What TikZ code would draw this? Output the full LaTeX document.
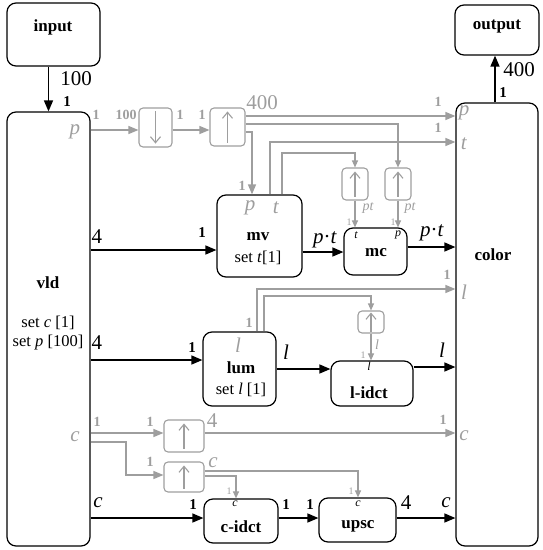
\documentclass[tikz,border=0pt]{standalone}
\usepackage{fontspec}
\setmainfont{Liberation Serif}
\usetikzlibrary{arrows.meta}
\definecolor{gc}{RGB}{158,158,158}
\begin{document}
\begin{tikzpicture}[x=1pt,y=-1pt,
 bx/.style={draw=black, line width=1.2pt, rounded corners=9pt, inner sep=0pt},
 gbx/.style={draw=gc, line width=1.1pt, rounded corners=4pt, inner sep=0pt},
 arr/.style={line width=1.4pt, -{Triangle[length=11pt,width=9pt]}},
 garr/.style={draw=gc, line width=1.3pt, -{Triangle[length=10pt,width=8pt]}},
 sgarr/.style={draw=gc, line width=1.1pt, -{Triangle[length=7pt,width=6pt]}},
 sym/.style={draw=gc, line width=1.1pt, -{Straight Barb[length=6pt,width=10pt]}},
 tt/.style={inner sep=0pt, font=\fontsize{17}{19}\selectfont\bfseries},
 ts/.style={inner sep=0pt, font=\fontsize{16.5}{19}\selectfont},
 lb/.style={inner sep=0pt, font=\fontsize{21}{23}\selectfont},
 b1/.style={inner sep=0pt, font=\fontsize{15}{17}\selectfont\bfseries},
 g1/.style={inner sep=0pt, text=gc, font=\fontsize{14}{16}\selectfont\bfseries},
 glb/.style={inner sep=0pt, text=gc, font=\fontsize{21}{23}\selectfont},
 sg/.style={inner sep=0pt, text=gc, font=\fontsize{10}{12}\selectfont},
 sgi/.style={inner sep=0pt, text=gc, font=\fontsize{14}{16}\selectfont\itshape},
 si/.style={inner sep=0pt, font=\fontsize{12}{14}\selectfont\itshape},
]
\useasboundingbox (0,0) rectangle (542,550);
% boxes
\node[bx, minimum width=93pt, minimum height=63pt] (input) at (53.5,34.5) {};
\node[bx, minimum width=83pt, minimum height=434pt] (vld) at (48.5,329) {};
\node[bx, minimum width=84pt, minimum height=50pt] (output) at (497,30) {};
\node[bx, minimum width=82pt, minimum height=443pt] (color) at (497,324.5) {};
\node[gbx, minimum width=33pt, minimum height=39pt] (down) at (155.5,127.5) {};
\node[gbx, minimum width=35pt, minimum height=38pt] (upa) at (227.5,127) {};
\node[bx, minimum width=85pt, minimum height=82pt] (mv) at (259.5,236) {};
\node[bx, minimum width=63pt, minimum height=47pt] (mc) at (375.5,251.5) {};
\node[gbx, minimum width=26pt, minimum height=32pt] (upt) at (355,184) {};
\node[gbx, minimum width=26pt, minimum height=32pt] (upp) at (398,184) {};
\node[bx, minimum width=73pt, minimum height=74pt] (lum) at (239.5,369) {};
\node[bx, minimum width=82pt, minimum height=45pt] (lidct) at (372,383.5) {};
\node[gbx, minimum width=26pt, minimum height=22pt] (upl) at (371,322) {};
\node[gbx, minimum width=40pt, minimum height=32pt] (upca) at (184,436) {};
\node[gbx, minimum width=40pt, minimum height=30pt] (upcb) at (184,477) {};
\node[bx, minimum width=74pt, minimum height=44pt] (cidct) at (241,521) {};
\node[bx, minimum width=77pt, minimum height=44pt] (upsc) at (357.5,520) {};
% symbols
\draw[sym] ([yshift=-4pt]down.north) -- ([yshift=4pt]down.south);
\foreach \b in {upa,upt,upp,upca,upcb}{\draw[sym] ([yshift=4pt]\b.south) -- ([yshift=-4pt]\b.north);}
\draw[sym] ([yshift=2pt]upl.south) -- ([yshift=-2pt]upl.north);
% box texts
\node[tt] (tin) at (53,27) {input};
\node[tt] (tout) at (497,27) {output};
\node[tt] (tvld) at (48,283) {vld};
\node[ts] (tvc) at (48,323) {set \textit{c} [1]};
\node[ts] (tvp) at (48,343) {set \textit{p} [100]};
\node[tt] (tmv) at (258,237) {mv};
\node[ts] (tmvs) at (258,258) {set \textit{t}[1]};
\node[tt] (tmc) at (376,253) {mc};
\node[tt] (tcol) at (493,255) {color};
\node[tt] (tlum) at (241,368) {lum};
\node[ts] (tlums) at (241,390) {set \textit{l} [1]};
\node[tt] (tlid) at (369,393) {l-idct};
\node[tt] (tcid) at (241,527) {c-idct};
\node[tt] (tups) at (358,526) {upsc};
% black connectors
\draw[arr] (vld.north |- input.south) -- (vld.north);
\draw[arr] (color.north -| 495,0) -- (output.south -| 495,0);
\draw[arr] (vld.east |- 0,250) -- (mv.west |- 0,250);
\draw[arr] (mv.east |- 0,252) -- (mc.west |- 0,252);
\draw[arr] (mc.east |- 0,247) -- (color.west |- 0,247);
\draw[arr] (vld.east |- 0,360) -- (lum.west |- 0,360);
\draw[arr] (lum.east |- 0,369) -- (lidct.west |- 0,369);
\draw[arr] (lidct.east |- 0,367) -- (color.west |- 0,367);
\draw[arr] (vld.east |- 0,518) -- (cidct.west |- 0,518);
\draw[arr] (cidct.east |- 0,518) -- (upsc.west |- 0,518);
\draw[arr] (upsc.east |- 0,518) -- (color.west |- 0,518);
% gray connectors
\draw[garr] (vld.east |- 0,130) -- (down.west |- 0,130);
\draw[garr] (down.east |- 0,130) -- (upa.west |- 0,130);
\draw[garr] (upa.east |- 0,116) -- (color.west |- 0,116);
\draw[sgarr] (upa.east |- 0,124) -| (upp.north);
\draw[garr] (upa.east |- 0,132) -| (mv.north -| 252,0);
\draw[garr] (mv.north -| 270,0) |- (color.west |- 0,142);
\draw[sgarr] (mv.north -| 282,0) -- (282,153) -| (upt.north);
\draw[sgarr] (upt.south) -- (mc.north -| upt.south);
\draw[sgarr] (upp.south) -- (mc.north -| upp.south);
\draw[garr] (lum.north -| 257,0) |- (color.west |- 0,289);
\draw[sgarr] (lum.north -| 264,0) -- (264,296) -| (upl.north);
\draw[sgarr] (upl.south) -- (lidct.north -| upl.south);
\draw[garr] (vld.east |- 0,433) -- (upca.west |- 0,433);
\draw[garr] (upca.east |- 0,433) -- (color.west |- 0,433);
\draw[garr] (vld.east |- 0,442) -- (126,442) |- (upcb.west |- 0,475);
\draw[sgarr] (upcb.east |- 0,471) -| (upsc.north -| 358,0);
\draw[sgarr] (upcb.east |- 0,476) -| (cidct.north -| 236,0);
% black labels
\node[b1] (k1) at (67,102) {1};
\node[b1] (k2) at (202,233) {1};
\node[b1] (k3) at (192,348) {1};
\node[b1] (k4) at (193,505) {1};
\node[b1] (k5) at (286,505) {1};
\node[b1] (k6) at (310,505) {1};
\node[b1] (k7) at (503,93) {1};
\node[lb] (m1) at (76,79) {100};
\node[lb] (m2) at (519,70) {400};
\node[lb] (m3) at (97,237) {4};
\node[lb] (m4) at (97,343) {4};
\node[lb] (m5) at (325,240) {\textit{p}·\textit{t}};
\node[lb] (m6) at (432,233) {\textit{p}·\textit{t}};
\node[lb] (m7) at (286,352) {\textit{l}};
\node[lb] (m8) at (442,350) {\textit{l}};
\node[lb] (m9) at (98,503) {\textit{c}};
\node[lb] (m10) at (446,503) {\textit{c}};
\node[lb] (m11) at (406,503) {4};
% gray labels
\node[g1] (g1) at (96,115) {1};
\node[g1] (g2) at (126,115) {100};
\node[g1] (g3) at (180,115) {1};
\node[g1] (g4) at (202,115) {1};
\node[g1] (g5) at (438,102) {1};
\node[g1] (g6) at (438,128) {1};
\node[g1] (g7) at (242,186) {1};
\node[g1] (g8) at (249,323) {1};
\node[g1] (g9) at (447,275) {1};
\node[g1] (g10) at (97,422) {1};
\node[g1] (g11) at (150,422) {1};
\node[g1] (g12) at (443,420) {1};
\node[g1] (g13) at (150,462) {1};
\node[glb] (h1) at (262,103) {400};
\node[glb] (h2) at (212,421) {4};
\node[glb] (h3) at (213,463) {\textit{c}};
\node[glb] (h4) at (75,132) {\textit{p}};
\node[glb] (h5) at (464,113) {\textit{p}};
\node[glb] (h6) at (464,144) {\textit{t}};
\node[glb] (h7) at (250,208) {\textit{p}};
\node[glb] (h8) at (276,208) {\textit{t}};
\node[glb] (h9) at (238,345) {\textit{l}};
\node[glb] (h10) at (464,292) {\textit{l}};
\node[glb] (h11) at (75,437) {\textit{c}};
\node[glb] (h12) at (464,436) {\textit{c}};
\node[sgi] (s1) at (368,208) {pt};
\node[sgi] (s2) at (410,208) {pt};
\node[sgi] (s3) at (377,345) {l};
\node[sg] (s4) at (349,222) {1};
\node[sg] (s5) at (393,222) {1};
\node[sg] (s6) at (363,355) {1};
\node[sg] (s7) at (229,491) {1};
\node[sg] (s8) at (351,491) {1};
\node[si] (i1) at (356,235) {t};
\node[si] (i2) at (398,235) {p};
\node[si] (i3) at (369,366) {l};
\node[si] (i4) at (235,504) {c};
\node[si] (i5) at (358,504) {c};
\end{tikzpicture}
\end{document}
